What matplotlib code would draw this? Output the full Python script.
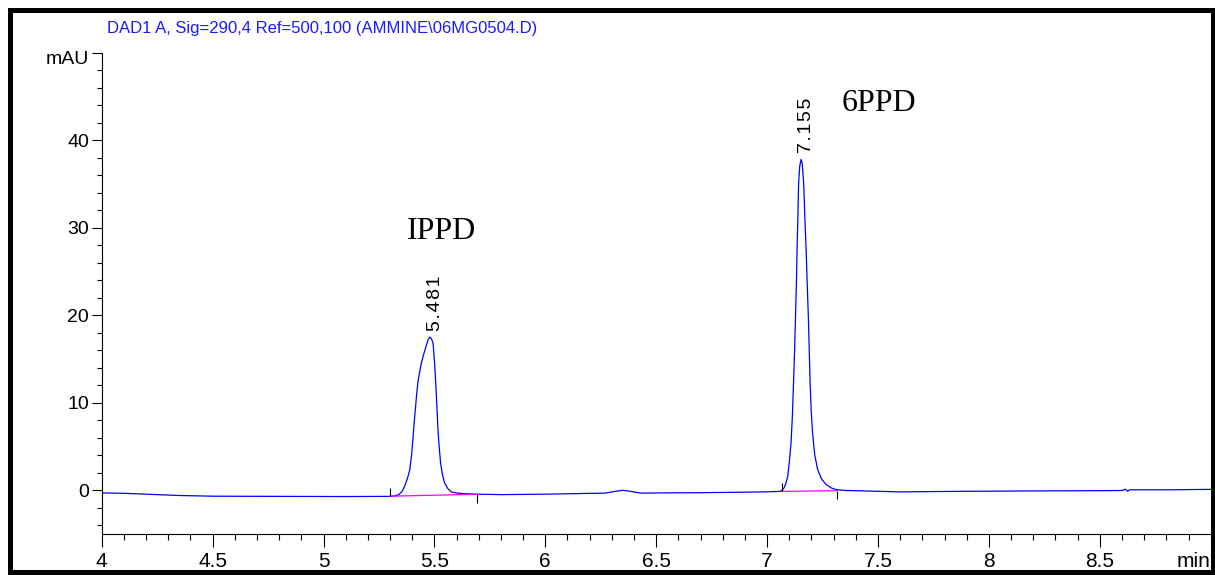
import numpy as np
import matplotlib
matplotlib.use('Agg')
import matplotlib.pyplot as plt
from matplotlib.patches import Rectangle
from matplotlib.ticker import MultipleLocator

# chromatogram (time in min, signal in mAU)
time_min = [4.00, 4.10, 4.20, 4.35, 4.50, 4.80, 5.10, 5.30, 5.32, 5.34, 5.355,
            5.366, 5.378, 5.389, 5.397, 5.404, 5.409, 5.414, 5.420, 5.426, 5.434,
            5.441, 5.449, 5.457, 5.464, 5.472, 5.479, 5.487, 5.494, 5.501, 5.505,
            5.509, 5.513, 5.516, 5.522, 5.528, 5.537, 5.546, 5.560, 5.576, 5.600,
            5.637, 5.70, 5.80, 6.00, 6.15, 6.27, 6.31, 6.35, 6.39, 6.43, 6.54,
            6.70, 6.90, 7.00, 7.05, 7.06, 7.075, 7.085, 7.093, 7.100, 7.108,
            7.114, 7.119, 7.124, 7.128, 7.132, 7.135, 7.139, 7.142, 7.147, 7.153,
            7.158, 7.165, 7.170, 7.176, 7.181, 7.186, 7.190, 7.194, 7.199, 7.205,
            7.215, 7.228, 7.245, 7.266, 7.290, 7.311, 7.35, 7.50, 7.60, 7.75,
            7.90, 8.20, 8.50, 8.60, 8.615, 8.625, 8.635, 8.80, 9.00]
signal_mau = [-0.30, -0.35, -0.45, -0.60, -0.68, -0.70, -0.72, -0.70, -0.65, -0.50, -0.10,
              0.46, 1.30, 2.36, 4.00, 6.16, 7.80, 9.20, 11.00, 12.40, 13.60,
              14.50, 15.30, 16.00, 16.60, 17.20, 17.50, 17.30, 16.80, 14.50, 12.70,
              10.70, 8.60, 6.90, 4.80, 3.10, 1.70, 0.84, 0.20, -0.18, -0.32,
              -0.40, -0.45, -0.50, -0.45, -0.38, -0.33, -0.15, 0.00, -0.15, -0.33, -0.30,
              -0.28, -0.22, -0.18, -0.14, -0.12, 0.20, 0.80, 1.60, 3.20, 5.40,
              8.50, 12.20, 16.00, 19.80, 23.60, 27.40, 31.50, 35.05, 37.00, 37.80,
              37.40, 35.05, 31.30, 27.40, 23.50, 19.80, 16.00, 12.20, 9.00, 6.50,
              4.00, 2.36, 1.30, 0.65, 0.25, 0.08, -0.02, -0.12, -0.19, -0.15,
              -0.12, -0.08, -0.05, -0.03, 0.12, -0.12, 0.05, 0.05, 0.10]

# integrated peaks
peak_rt = [5.481, 7.155]
peak_height = [17.5, 37.8]
peak_names = ['IPPD', '6PPD']
int_start = [5.299, 7.068]
int_end = [5.692, 7.315]
base_start = [-0.68, -0.13]
base_end = [-0.46, -0.05]

title = 'DAD1 A, Sig=290,4 Ref=500,100 (AMMINE\\06MG0504.D)'

narrow = ['Liberation Sans Narrow', 'Liberation Sans', 'DejaVu Sans']

fig = plt.figure(figsize=(12.15, 5.75), dpi=100)
ax = fig.add_axes([101.7 / 1215, 1 - 534 / 575, 1109 / 1215, 481.3 / 575])

ax.plot(time_min, signal_mau, color='#0000ff', lw=0.9)
for s, e, b0, b1 in zip(int_start, int_end, base_start, base_end):
    ax.plot([s, e], [b0, b1], color='#ff00ff', lw=0.9)
    ax.vlines(s, b0, b0 + 0.95, color='black', lw=0.8)
    ax.vlines(e, b1 - 0.95, b1, color='black', lw=0.8)

for rt, h in zip(peak_rt, peak_height):
    spaced = '\u200a'.join('{:.3f}'.format(rt))
    ax.text(rt + 0.022, h + 0.7, spaced, rotation=90, ha='center',
            va='bottom', fontsize=14, family=narrow)

ax.text(5.534, 29.6, peak_names[0], fontsize=23, family='Liberation Serif',
        ha='center', va='center')
ax.text(7.504, 44.2, peak_names[1], fontsize=23, family='Liberation Serif',
        ha='center', va='center')

ax.set_xlim(4, 9)
ax.set_ylim(-5, 50)
ax.set_xticks([4, 4.5, 5, 5.5, 6, 6.5, 7, 7.5, 8, 8.5])
ax.set_xticklabels(['4', '4.5', '5', '5.5', '6', '6.5', '7', '7.5', '8', '8.5'])
ax.xaxis.set_minor_locator(MultipleLocator(0.1))
ax.set_yticks([0, 10, 20, 30, 40, 50])
ax.set_yticklabels(['0', '10', '20', '30', '40', ''])
ax.yaxis.set_minor_locator(MultipleLocator(2))
ax.tick_params(axis='x', which='major', length=9, width=0.8, pad=4, labelsize=15)
ax.tick_params(axis='x', which='minor', length=4.5, width=0.8)
ax.tick_params(axis='y', which='major', length=7, width=0.8, pad=2, labelsize=14)
ax.tick_params(axis='y', which='minor', length=3.5, width=0.8)
for lab in ax.get_xticklabels() + ax.get_yticklabels():
    lab.set_family(narrow)
ax.spines['top'].set_visible(False)
ax.spines['right'].set_visible(False)
ax.spines['left'].set_linewidth(0.8)
ax.spines['bottom'].set_linewidth(0.8)

ax.annotate('mAU', xy=(0, 50), xycoords=('axes fraction', 'data'),
            xytext=(-9, -5), textcoords='offset points', ha='right',
            va='center', fontsize=14, family=narrow)
ax.text(1.0, -0.058, 'min', transform=ax.transAxes, ha='right', va='center',
        fontsize=15, family=narrow)

fig.text(107 / 1215, 1 - 29 / 575, title, color='#1a1aff', fontsize=12,
         family=narrow, ha='left', va='center')

fig.patches.append(Rectangle((9.5 / 1215, 3.5 / 575), 1203 / 1215, 562 / 575,
                             transform=fig.transFigure, fill=False,
                             edgecolor='black', lw=3.6))

fig.savefig('out.png', dpi=100)
